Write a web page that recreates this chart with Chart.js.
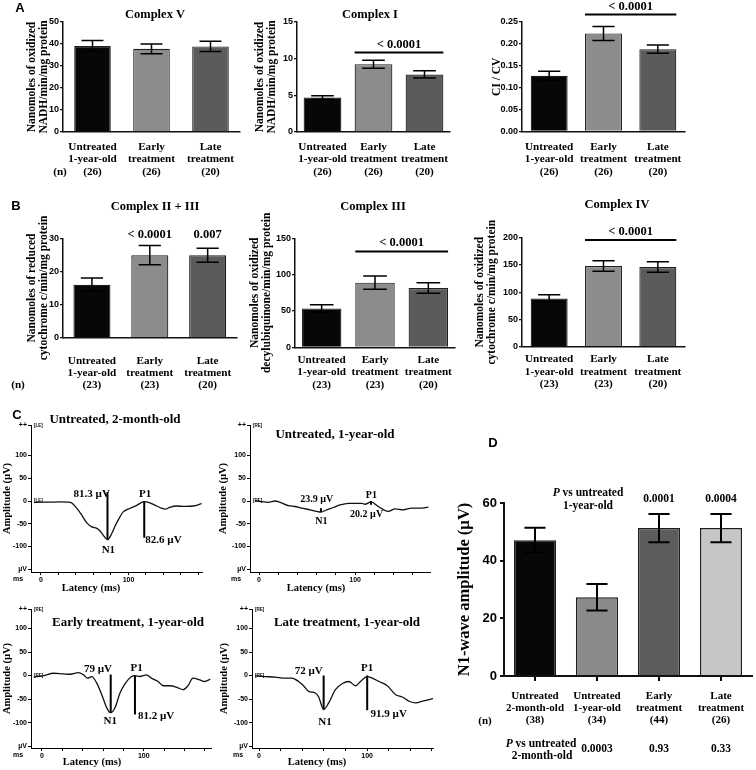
<!DOCTYPE html>
<html>
<head>
<meta charset="utf-8">
<script src="https://cdn.jsdelivr.net/npm/chart.js@4.4.1/dist/chart.umd.min.js"></script>
<style>
html,body{margin:0;padding:0;background:#fff;}
#wrap{position:relative;width:756px;height:770px;overflow:hidden;background:#fff;}
#wrap canvas{position:absolute;}
</style>
</head>
<body>
<div id="wrap"></div>
<script>
// ================= DATA =================
const groupsA = [['Untreated', '1-year-old'], ['Early', 'treatment'], ['Late', 'treatment']];
const nA = [26, 26, 20];
const nB = [23, 23, 20];

const complexV = [39.1, 37.8, 38.9];
const complexVErr = [2.5, 2.2, 2.3];
const complexI = [4.7, 9.25, 7.85];
const complexIErr = [0.25, 0.55, 0.5];
const ratioCICV = [0.127, 0.224, 0.188];
const ratioCICVErr = [0.0105, 0.016, 0.0095];

const complexIIplusIII = [16.0, 24.9, 24.9];
const complexIIplusIIIErr = [2.0, 2.9, 2.1];
const complexIII = [53.5, 89.0, 81.5];
const complexIIIErr = [5.0, 9.0, 7.2];
const complexIV = [88.5, 148.0, 146.2];
const complexIVErr = [6.8, 9.6, 9.8];

const pTreatedVsUntreated = '< 0.0001';
const pIIplusIII = ['', '< 0.0001', '0.007'];

const groupsD = [['Untreated', '2-month-old'], ['Untreated', '1-year-old'], ['Early', 'treatment'], ['Late', 'treatment']];
const nD = [38, 34, 44, 26];
const n1Amplitude = [47.1, 27.3, 51.3, 51.3];
const n1AmplitudeErr = [4.3, 4.6, 4.9, 4.9];
const pVs1YearOld = ['', '', '0.0001', '0.0004'];
const pVs2MonthOld = ['', '0.0003', '0.93', '0.33'];

// ERG traces: latency (ms) / amplitude (µV)
const t1Ms = [-8, 0, 10, 20, 33.4, 44.8, 52.4, 58.1, 63.8, 67.6, 71.4, 76, 81, 84.7, 88.5, 94, 102, 109, 118, 123, 130, 138, 142, 147, 155, 164.5, 174, 183.5];
const t1Uv = [-3, -2.5, -2.5, -2, -2.9, -26, -48, -57, -60, -66, -76, -85, -71, -55, -41, -24, -16, -10, -1.4, -3, -9, -16, -18, -14, -11, -12, -11, -6];
const t2Ms = [-4.2, 2.8, 9.7, 16.7, 21.9, 30.5, 37.5, 44.4, 53.1, 60, 64.5, 70.4, 77.4, 84.3, 93, 99.9, 106.9, 110.3, 116.6, 124.2, 134.6, 141.6, 150.3, 158.9, 167.6, 176.3];
const t2Uv = [0, -1.4, -2.9, 0, -2.9, -10, -12.1, -15.7, -19.3, -22.8, -24.3, -19.3, -14.3, -8.6, -5, -5, -5, -7.1, -2.1, -12.1, -22.8, -17.1, -19.3, -15.7, -15.7, -13.6];
const t3Ms = [-8.2, 1.6, 11.4, 21.2, 27.7, 35.9, 40.8, 44.7, 48.9, 53.8, 58.7, 63.6, 67.5, 71.7, 76.6, 81.5, 88, 91.3, 96.2, 102.7, 107.6, 114, 119, 125.5, 132, 138.5, 143.4, 148.3, 154.9, 159.7, 165.3];
const t3Uv = [-3.5, 0, 4.9, 3.5, 2.8, 6.3, 1.4, -5.6, -2.1, -16, -40.6, -68.6, -79, -68.6, -37, -17.5, -2, 0, -2, 1.4, -5.6, -12.6, -21.7, -21.7, -24.5, -30, -21.7, -5.6, -9.1, -12.6, -7.7];
const t4Ms = [-3.7, 5.6, 14.9, 24.2, 30.4, 36.6, 41.2, 45.9, 52.1, 55.2, 59.8, 64.5, 70.7, 76.9, 83.1, 89.3, 93.9, 100.1, 104.8, 111, 118.7, 126.5, 132.7, 138.9, 145.1, 151.3, 157.5, 161];
const t4Uv = [-0.7, -2.1, -3.5, -5.6, -5.6, -12.6, -21.7, -33.6, -37.1, -45.5, -72.1, -58.1, -30.1, -17.5, -12.6, -21.7, -12.6, -2.1, -5.6, -12.6, -21.7, -40.6, -45.5, -54.6, -58.1, -54.6, -51.1, -49];

// N1 / P1 marker bars: [latency, from µV, to µV]
const t1Markers = [[76, 20, -85], [118, 0, -81]];
const t2Markers = [[64.5, -16, -24.3], [116.6, 0, -8.5]];
const t3Markers = [[67.5, 2, -79], [91.3, 0, -83]];
const t4Markers = [[59.8, 0, -72.1], [100.1, 0, -73.5]];
// labels: [text, latency, µV]
const t1Labels = [['81.3 µV', 58, 16], ['N1', 77, -108], ['P1', 119, 14], ['82.6 µV', 140, -87]];
const t2Labels = [['23.9 µV', 60, 4], ['N1', 65, -44], ['P1', 117, 13], ['20.2 µV', 112, -30]];
const t3Labels = [['79 µV', 55, 13], ['N1', 67, -97], ['P1', 93, 15], ['81.2 µV', 112, -86]];
const t4Labels = [['72 µV', 46, 10], ['N1', 61, -100], ['P1', 100, 15], ['91.9 µV', 120, -83]];

const traceYTicks = [-150, -100, -50, 0, 50, 100];
const traceXTicks = [0, 20, 40, 60, 80, 100, 120, 140, 160, 180];

// ================= RENDERING =================
const wrap = document.getElementById('wrap');
const SERIF = '"Liberation Serif","Times New Roman",serif';
const SANS = '"Liberation Sans",Arial,sans-serif';
const fS = (s, st) => `${st || 'bold'} ${s}px ${SERIF}`;
const fA = (s) => `bold ${s}px ${SANS}`;
const colors3 = ['#070707', '#8c8c8c', '#5b5b5b'];
const colors4 = ['#070707', '#8a8a8a', '#5c5c5c', '#c6c6c6'];
Chart.defaults.color = '#000';
Chart.defaults.font.family = SANS;

function addCanvas(L, T, W, H) {
  const c = document.createElement('canvas');
  c.width = W; c.height = H;
  c.style.left = L + 'px'; c.style.top = T + 'px';
  c.style.width = W + 'px'; c.style.height = H + 'px';
  wrap.appendChild(c);
  return c;
}

function drawRuns(ctx, runs, x, y) {
  let total = 0;
  runs.forEach(r => { ctx.font = r[1]; total += ctx.measureText(r[0]).width; });
  let cx = x - total / 2;
  ctx.textAlign = 'left';
  runs.forEach(r => { ctx.font = r[1]; ctx.fillText(r[0], cx, y); cx += ctx.measureText(r[0]).width; });
  ctx.textAlign = 'center';
}

function makeExtras(o) {
  return {
    id: 'extras',
    afterDatasetsDraw(chart) {
      const ctx = chart.ctx, ys = chart.scales.y, xs = chart.scales.x;
      const meta = chart.getDatasetMeta(0);
      ctx.save();
      ctx.fillStyle = '#000'; ctx.strokeStyle = '#000';
      ctx.textAlign = 'center'; ctx.textBaseline = 'middle';
      if (o.errors) {
        ctx.lineWidth = o.errW || 1.5;
        meta.data.forEach((el, i) => {
          const v = chart.data.datasets[0].data[i], e = o.errors[i];
          const yt = ys.getPixelForValue(v + e), yb = ys.getPixelForValue(v - e);
          const hw = el.width * o.capFrac / 2;
          ctx.beginPath();
          ctx.moveTo(el.x, yt); ctx.lineTo(el.x, yb);
          ctx.moveTo(el.x - hw, yt); ctx.lineTo(el.x + hw, yt);
          ctx.moveTo(el.x - hw, yb); ctx.lineTo(el.x + hw, yb);
          ctx.stroke();
        });
      }
      if (o.sig) {
        const s = o.sig, a = meta.data[s.from], b = meta.data[s.to];
        const x0 = a.x - a.width / 2, x1 = b.x + b.width / 2, y = ys.getPixelForValue(s.value);
        ctx.lineWidth = 2;
        ctx.beginPath(); ctx.moveTo(x0, y); ctx.lineTo(x1, y); ctx.stroke();
        ctx.font = s.font;
        ctx.fillText(s.text, (x0 + x1) / 2, y - s.gap);
      }
      (o.barTexts || []).forEach(t => {
        const x = xs.getPixelForValue(t.index) + (t.dx || 0);
        const y = t.value !== undefined ? ys.getPixelForValue(t.value) : t.y - o.T;
        if (t.runs) drawRuns(ctx, t.runs, x, y);
        else { ctx.font = t.font; ctx.fillText(t.text, x, y); }
      });
      (o.dataTexts || []).forEach(t => {
        ctx.font = o.dataFont;
        ctx.fillText(t[0], xs.getPixelForValue(t[1]), ys.getPixelForValue(t[2]));
      });
      if (o.tag) {
        ctx.font = fA(4.5); ctx.textAlign = 'left';
        ctx.fillText(o.tag, chart.chartArea.left + 3, chart.chartArea.top + 1);
        ctx.fillText(o.tag, chart.chartArea.left + 3, ys.getPixelForValue(0));
        ctx.textAlign = 'center';
      }
      (o.pageTexts || []).forEach(t => {
        ctx.textAlign = t.align || 'center';
        ctx.font = t.font;
        ctx.fillText(t.text, t.x - o.L, t.y - o.T);
      });
      ctx.restore();
    }
  };
}

function barChart(o) {
  const c = addCanvas(o.L, o.T, o.W, o.H);
  return new Chart(c, {
    type: 'bar',
    data: {
      labels: o.labels,
      datasets: [{ data: o.values, backgroundColor: o.colors, borderColor: '#1e1e1e', borderWidth: o.barBorder || 1.2,
        barPercentage: o.barPct, categoryPercentage: 1 }]
    },
    options: {
      responsive: false, animation: false, devicePixelRatio: 1,
      layout: { padding: { top: o.axisTop - o.T, right: o.L + o.W - o.axisRight, bottom: 0, left: 0 } },
      plugins: { legend: { display: false }, tooltip: { enabled: false } },
      scales: {
        x: {
          type: 'category', offset: true,
          grid: { display: !!o.xTickLen, drawOnChartArea: false, drawTicks: !!o.xTickLen, tickLength: o.xTickLen || 0,
            offset: false, color: '#000', lineWidth: o.axisW || 1.5 },
          border: { display: true, color: '#111', width: o.axisW || 1.5 },
          ticks: { color: '#000', font: { family: SERIF, size: o.labelSize, weight: 'bold', lineHeight: o.labelLH / o.labelSize },
            padding: o.labelPad, maxRotation: 0, minRotation: 0, autoSkip: false },
          afterFit: s => { s.height = o.T + o.H - o.axisBottom; }
        },
        y: {
          min: o.yMin, max: o.yMax,
          ticks: { stepSize: o.yStep, color: '#000', font: { family: SANS, size: o.tickSize, weight: 'bold' }, padding: o.tickPad || 1,
            callback: o.yFmt || (v => String(v)) },
          grid: { drawOnChartArea: false, drawTicks: true, tickLength: o.yTickLen || 3, color: '#111', lineWidth: o.axisW || 1.3 },
          border: { display: true, color: '#111', width: o.axisW || 1.5 },
          title: { display: true, text: o.yTitle, color: '#000',
            font: { family: SERIF, size: o.yTitleSize, weight: 'bold', lineHeight: o.yTitleLH / o.yTitleSize },
            padding: { top: o.yTitlePad, bottom: 0 } },
          afterFit: s => { s.width = o.axisX - o.L; }
        }
      }
    },
    plugins: [makeExtras(o)]
  });
}

function traceChart(o) {
  const c = addCanvas(o.L, o.T, o.W, o.H);
  const ds = [{ data: o.ms.map((x, i) => ({ x, y: o.uv[i] })), borderColor: '#111', borderWidth: 1.3, pointRadius: 0,
    showLine: true, cubicInterpolationMode: 'monotone' }];
  o.markers.forEach(m => ds.push({ data: [{ x: m[0], y: m[1] }, { x: m[0], y: m[2] }], borderColor: '#000', borderWidth: 2,
    pointRadius: 0, showLine: true }));
  const tickFont = { family: SANS, size: 7, weight: 'bold' };
  return new Chart(c, {
    type: 'scatter',
    data: { datasets: ds },
    options: {
      responsive: false, animation: false, devicePixelRatio: 1,
      layout: { padding: { top: o.axisTop - o.T, right: o.L + o.W - o.axisRight, bottom: 0, left: 0 } },
      plugins: { legend: { display: false }, tooltip: { enabled: false } },
      scales: {
        x: {
          type: 'linear', min: o.xMin, max: o.xMax,
          afterBuildTicks: s => { s.ticks = traceXTicks.filter(v => v <= o.xMax).map(v => ({ value: v })); },
          ticks: { callback: v => (v === 0 || v === 100) ? String(v) : '', font: tickFont, color: '#000', padding: 1,
            maxRotation: 0, minRotation: 0, autoSkip: false },
          grid: { drawOnChartArea: false, drawTicks: true, tickLength: 3, color: '#000', lineWidth: 1 },
          border: { display: true, color: '#000', width: 1 },
          afterFit: s => { s.height = o.T + o.H - o.axisBottom; }
        },
        y: {
          type: 'linear', min: o.yMin, max: o.yMax,
          afterBuildTicks: s => { s.ticks = traceYTicks.concat([o.yMax]).map(v => ({ value: v })); },
          ticks: { callback: v => v === o.yMax ? '++' : (v === -150 ? 'µV' : String(v)), font: tickFont, color: '#000',
            padding: 1, autoSkip: false },
          grid: { drawOnChartArea: false, drawTicks: true, tickLength: 3, color: '#000', lineWidth: 1 },
          border: { display: true, color: '#000', width: 1 },
          title: { display: true, text: 'Amplitude (µV)', color: '#000',
            font: { family: SERIF, size: 10.5, weight: 'bold', lineHeight: 1 }, padding: { top: o.yTitlePad, bottom: 0 } },
          afterFit: s => { s.width = o.axisX - o.L; }
        }
      }
    },
    plugins: [makeExtras(o)]
  });
}

const withN = (groups, n) => groups.map((g, i) => g.concat(['(' + n[i] + ')']));
const labelsA = withN(groupsA, nA);
const labelsB = withN(groupsA, nB);
const labelsD = withN(groupsD, nD);

// ---------- Panel A ----------
barChart({ L: 0, T: 0, W: 250, H: 185, axisX: 63, axisTop: 22, axisBottom: 132, axisRight: 240,
  labels: labelsA, values: complexV, errors: complexVErr, colors: colors3, capFrac: 0.6, barPct: 0.62,
  yMin: 0, yMax: 50, yStep: 10, tickSize: 9,
  yTitle: ['Nanomoles of oxidized', 'NADH/min/mg protein'], yTitleSize: 11.5, yTitleLH: 12, yTitlePad: 26.5,
  labelSize: 11.2, labelLH: 12.8, labelPad: 8.3,
  pageTexts: [
    { text: 'A', x: 20, y: 8, font: fA(13) },
    { text: 'Complex V', x: 155, y: 15, font: fS(12.5) },
    { text: '(n)', x: 60, y: 172.5, font: fS(11.2) }
  ] });

barChart({ L: 250, T: 0, W: 250, H: 185, axisX: 297, axisTop: 22, axisBottom: 132, axisRight: 450,
  labels: labelsA, values: complexI, errors: complexIErr, colors: colors3, capFrac: 0.6, barPct: 0.74,
  yMin: 0, yMax: 15, yStep: 5, tickSize: 9,
  yTitle: ['Nanomoles of oxidized', 'NADH/min/mg protein'], yTitleSize: 11.5, yTitleLH: 12, yTitlePad: 4,
  labelSize: 11.2, labelLH: 12.8, labelPad: 8.3,
  sig: { from: 1, to: 2, value: 10.85, text: pTreatedVsUntreated, gap: 8, font: fS(12.5) },
  pageTexts: [{ text: 'Complex I', x: 370, y: 15, font: fS(12.5) }] });

barChart({ L: 490, T: 0, W: 266, H: 185, axisX: 522, axisTop: 22, axisBottom: 131.5, axisRight: 685,
  labels: labelsA, values: ratioCICV, errors: ratioCICVErr, colors: colors3, capFrac: 0.6, barPct: 0.68,
  yMin: 0, yMax: 0.25, yStep: 0.05, tickSize: 9, yFmt: v => v.toFixed(2),
  yTitle: 'CI / CV', yTitleSize: 11.5, yTitleLH: 12, yTitlePad: 1,
  labelSize: 11.2, labelLH: 12.8, labelPad: 8.8,
  sig: { from: 1, to: 2, value: 0.267, text: pTreatedVsUntreated, gap: 8, font: fS(12.5) } });

// ---------- Panel B ----------
barChart({ L: 0, T: 190, W: 250, H: 205, axisX: 63, axisTop: 238.3, axisBottom: 337.7, axisRight: 245,
  labels: labelsB, values: complexIIplusIII, errors: complexIIplusIIIErr, colors: colors3, capFrac: 0.6, barPct: 0.64,
  yMin: 0, yMax: 30, yStep: 10, tickSize: 9,
  yTitle: ['Nanomoles of reduced', 'cytochrome c/min/mg protein'], yTitleSize: 11.5, yTitleLH: 12, yTitlePad: 26.5,
  labelSize: 11.2, labelLH: 11.8, labelPad: 18,
  barTexts: pIIplusIII.map((t, i) => ({ index: i, value: 31.0, text: t, font: fS(12.5) })),
  pageTexts: [
    { text: 'B', x: 16, y: 206, font: fA(13) },
    { text: 'Complex II + III', x: 155, y: 207, font: fS(12.5) },
    { text: '(n)', x: 18, y: 385.5, font: fS(11.2) }
  ] });

barChart({ L: 245, T: 190, W: 255, H: 205, axisX: 295, axisTop: 238.3, axisBottom: 347.3, axisRight: 455,
  labels: labelsB, values: complexIII, errors: complexIIIErr, colors: colors3, capFrac: 0.6, barPct: 0.74,
  yMin: 0, yMax: 150, yStep: 50, tickSize: 9,
  yTitle: ['Nanomoles of oxidized', 'decylubiquinone/min/mg protein'], yTitleSize: 11.5, yTitleLH: 12, yTitlePad: 4,
  labelSize: 11.2, labelLH: 12.5, labelPad: 6.5,
  sig: { from: 1, to: 2, value: 131.7, text: pTreatedVsUntreated, gap: 9, font: fS(12.5) },
  pageTexts: [{ text: 'Complex III', x: 373, y: 207, font: fS(12.5) }] });

barChart({ L: 470, T: 190, W: 286, H: 205, axisX: 522, axisTop: 237.7, axisBottom: 346.7, axisRight: 685,
  labels: labelsB, values: complexIV, errors: complexIVErr, colors: colors3, capFrac: 0.6, barPct: 0.68,
  yMin: 0, yMax: 200, yStep: 50, tickSize: 9,
  yTitle: ['Nanomoles of oxidized', 'cytochrome c/min/mg protein'], yTitleSize: 11.5, yTitleLH: 12, yTitlePad: 4,
  labelSize: 11.2, labelLH: 12.5, labelPad: 6.5,
  sig: { from: 1, to: 2, value: 195.7, text: pTreatedVsUntreated, gap: 8, font: fS(12.5) },
  pageTexts: [{ text: 'Complex IV', x: 617, y: 205, font: fS(12.5) }] });

// ---------- Panel C ----------
traceChart({ L: 0, T: 400, W: 215, H: 194, axisX: 31, axisTop: 425, axisBottom: 572, axisRight: 202,
  xMin: -11.4, xMax: 184, yMin: -156, yMax: 167, yTitlePad: 2,
  ms: t1Ms, uv: t1Uv, markers: t1Markers, dataTexts: t1Labels, dataFont: fS(11), tag: '[LE]',
  pageTexts: [
    { text: 'C', x: 17, y: 415, font: fA(13) },
    { text: 'Untreated, 2-month-old', x: 115, y: 420, font: fS(13) },
    { text: 'ms', x: 18, y: 579, font: fA(7) },
    { text: 'Latency (ms)', x: 91, y: 588, font: fS(10.5) }
  ] });

traceChart({ L: 215, T: 400, W: 225, H: 194, axisX: 250, axisTop: 425, axisBottom: 572, axisRight: 430,
  xMin: -9.4, xMax: 178, yMin: -156, yMax: 167, yTitlePad: 3.5,
  ms: t2Ms, uv: t2Uv, markers: t2Markers, dataTexts: t2Labels, dataFont: fS(10), tag: '[RE]',
  pageTexts: [
    { text: 'Untreated, 1-year-old', x: 335, y: 435, font: fS(13) },
    { text: 'ms', x: 236, y: 579, font: fA(7) },
    { text: 'Latency (ms)', x: 316, y: 588, font: fS(10.5) }
  ] });

traceChart({ L: 0, T: 590, W: 215, H: 180, axisX: 31, axisTop: 609, axisBottom: 748, axisRight: 211,
  xMin: -10.8, xMax: 166, yMin: -154, yMax: 141.5, yTitlePad: 2,
  ms: t3Ms, uv: t3Uv, markers: t3Markers, dataTexts: t3Labels, dataFont: fS(11), tag: '[RE]',
  pageTexts: [
    { text: 'Early treatment, 1-year-old', x: 128, y: 623, font: fS(13) },
    { text: 'ms', x: 18, y: 755, font: fA(7) },
    { text: 'Latency (ms)', x: 92, y: 762, font: fS(10.5) }
  ] });

traceChart({ L: 215, T: 590, W: 225, H: 180, axisX: 252, axisTop: 609, axisBottom: 748, axisRight: 433,
  xMin: -6.5, xMax: 161, yMin: -154, yMax: 141.5, yTitlePad: 4.5,
  ms: t4Ms, uv: t4Uv, markers: t4Markers, dataTexts: t4Labels, dataFont: fS(11), tag: '[RE]',
  pageTexts: [
    { text: 'Late treatment, 1-year-old', x: 347, y: 623, font: fS(13) },
    { text: 'ms', x: 238, y: 755, font: fA(7) },
    { text: 'Latency (ms)', x: 317, y: 762, font: fS(10.5) }
  ] });

// ---------- Panel D ----------
const dTexts = [
  { index: 0, y: 744, dx: 6, runs: [['P', fS(11.5, 'italic bold')], [' vs untreated', fS(11.5)]] },
  { index: 0, y: 756, dx: 7, text: '2-month-old', font: fS(11.5) },
  { index: 1, value: 63.5, dx: -9, runs: [['P', fS(11.5, 'italic bold')], [' vs untreated', fS(11.5)]] },
  { index: 1, value: 59.0, dx: -9, text: '1-year-old', font: fS(11.5) }
];
pVs1YearOld.forEach((t, i) => { if (t) dTexts.push({ index: i, value: 61.4, text: t, font: fS(11.5) }); });
pVs2MonthOld.forEach((t, i) => { if (t) dTexts.push({ index: i, y: 749.5, text: t, font: fS(11.5) }); });

barChart({ L: 440, T: 430, W: 316, H: 340, axisX: 504, axisTop: 503, axisBottom: 676, axisRight: 752,
  labels: labelsD, values: n1Amplitude, errors: n1AmplitudeErr, colors: colors4, capFrac: 0.5, barPct: 0.68,
  errW: 2, barBorder: 1.5, axisW: 2,
  yMin: 0, yMax: 60, yStep: 20, tickSize: 13, tickPad: 3, yTickLen: 4,
  yTitle: 'N1-wave amplitude (µV)', yTitleSize: 16.5, yTitleLH: 16.5, yTitlePad: 16.75,
  labelSize: 11, labelLH: 12, labelPad: 9, xTickLen: 5,
  barTexts: dTexts,
  pageTexts: [
    { text: 'D', x: 493, y: 443, font: fA(13) },
    { text: '(n)', x: 485, y: 721, font: fS(11) }
  ] });
</script>
</body>
</html>
